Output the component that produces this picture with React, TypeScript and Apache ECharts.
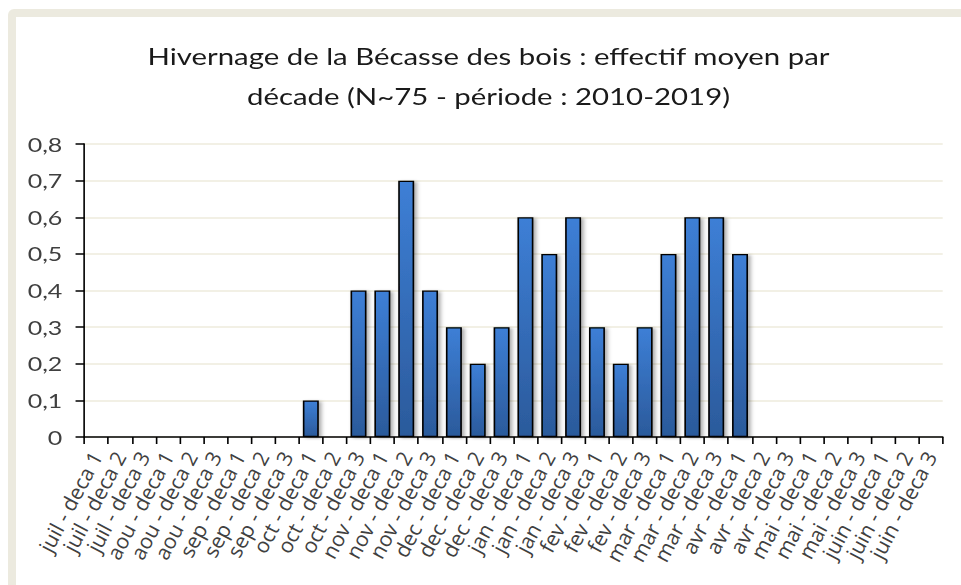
import React, { useEffect, useRef } from "react";
import * as echarts from "echarts";

const titleText = "Hivernage de la Bécasse des bois : effectif moyen par\ndécade (N~75 - période : 2010-2019)";

const months = ["juil", "aou", "sep", "oct", "nov", "dec", "jan", "fev", "mar", "avr", "mai", "juin"];
const decades = ["deca 1", "deca 2", "deca 3"];
const categories: string[] = [];
months.forEach((m) => decades.forEach((d) => categories.push(`${m} - ${d}`)));

const values = [
  0, 0, 0, 0, 0, 0, 0, 0, 0,
  0.1, 0, 0.4,
  0.4, 0.7, 0.4,
  0.3, 0.2, 0.3,
  0.6, 0.5, 0.6,
  0.3, 0.2, 0.3,
  0.5, 0.6, 0.6,
  0.5, 0, 0,
  0, 0, 0,
  0, 0, 0,
];

const FONT = "Lato, 'Open Sans', sans-serif";
const LABEL_FONT = "'Open Sans', Lato, sans-serif";
const STRETCH = 1.25;
const W = 945;
const H = 568;
const GRID_LEFT = 68.3;
const GRID_RIGHT = 18.3;
const GRID_TOP = 127;
const GRID_BOTTOM = 148;

export default function App() {
  const ref = useRef<HTMLDivElement>(null);
  const labelRef = useRef<HTMLDivElement>(null);
  useEffect(() => {
    if (!ref.current || !labelRef.current) return;
    const chart = echarts.init(ref.current, undefined, { renderer: "svg" });
    chart.setOption({
      animation: false,
      backgroundColor: "#ffffff",
      title: {
        text: titleText,
        left: "center",
        top: 14,
        textStyle: {
          fontFamily: FONT,
          fontSize: 23.5,
          fontWeight: "normal",
          color: "#1a1a1a",
          lineHeight: 40,
        },
      },
      grid: {
        left: GRID_LEFT / STRETCH,
        right: GRID_RIGHT / STRETCH,
        top: GRID_TOP,
        bottom: GRID_BOTTOM,
      },
      xAxis: {
        type: "category",
        data: categories,
        boundaryGap: true,
        axisLine: { lineStyle: { color: "#000", width: 1.5 } },
        axisTick: { show: true, interval: 0, length: 7, inside: false, lineStyle: { color: "#000", width: 1.3 } },
        axisLabel: { show: false, interval: 0 },
        splitLine: { show: false },
      },
      yAxis: {
        type: "value",
        min: 0,
        max: 0.8,
        interval: 0.1,
        axisLine: { show: true, lineStyle: { color: "#000", width: 1.3 } },
        axisTick: { show: true, length: 7, lineStyle: { color: "#000", width: 1.5 } },
        axisLabel: {
          margin: 17.6,
          fontFamily: FONT,
          fontSize: 20,
          color: "#404040",
          formatter: (v: number) => (Math.round(v * 10) / 10).toString().replace(".", ","),
        },
        splitLine: { show: true, lineStyle: { color: "#EEEBDC", width: 1.5 } },
      },
      series: [
        {
          type: "bar",
          data: values,
          barWidth: "67%",
          itemStyle: {
            color: new echarts.graphic.LinearGradient(0, 0, 0, 1, [
              { offset: 0, color: "#3D7FD6" },
              { offset: 1, color: "#2B5A9B" },
            ]),
            borderColor: "#000",
            borderWidth: 1.3,
            shadowColor: "rgba(0,0,0,0.35)",
            shadowBlur: 3,
            shadowOffsetX: 2,
            shadowOffsetY: 1,
          },
        },
      ],
    });

    // Unstretched overlay carrying the rotated category labels
    const labels = echarts.init(labelRef.current, undefined, { renderer: "svg" });
    labels.setOption({
      animation: false,
      grid: { left: GRID_LEFT, right: GRID_RIGHT, top: GRID_TOP, bottom: GRID_BOTTOM },
      xAxis: {
        type: "category",
        data: categories,
        boundaryGap: true,
        axisLine: { show: false },
        axisTick: { show: false },
        splitLine: { show: false },
        axisLabel: {
          interval: 0,
          rotate: 62,
          margin: 16,
          fontFamily: LABEL_FONT,
          fontSize: 21,
          color: "#404040",
        },
      },
      yAxis: { type: "value", show: false, min: 0, max: 0.8 },
    });
    return () => {
      chart.dispose();
      labels.dispose();
    };
  }, []);

  return (
    <div>
      <div
        style={{
          position: "fixed",
          left: 8,
          top: 9,
          width: 953,
          height: 576,
          background: "#ECEADF",
          borderTopLeftRadius: 6,
        }}
      />
      <div
        style={{
          position: "fixed",
          left: 16,
          top: 17,
          width: W,
          height: H,
          background: "#ffffff",
          overflow: "hidden",
        }}
      >
        <div
          ref={ref}
          style={{
            width: W / STRETCH,
            height: H,
            transform: `scaleX(${STRETCH})`,
            transformOrigin: "left top",
          }}
        />
      </div>
      <div
        ref={labelRef}
        style={{
          position: "fixed",
          left: 16,
          top: 17,
          width: W,
          height: H,
          pointerEvents: "none",
        }}
      />
    </div>
  );
}
